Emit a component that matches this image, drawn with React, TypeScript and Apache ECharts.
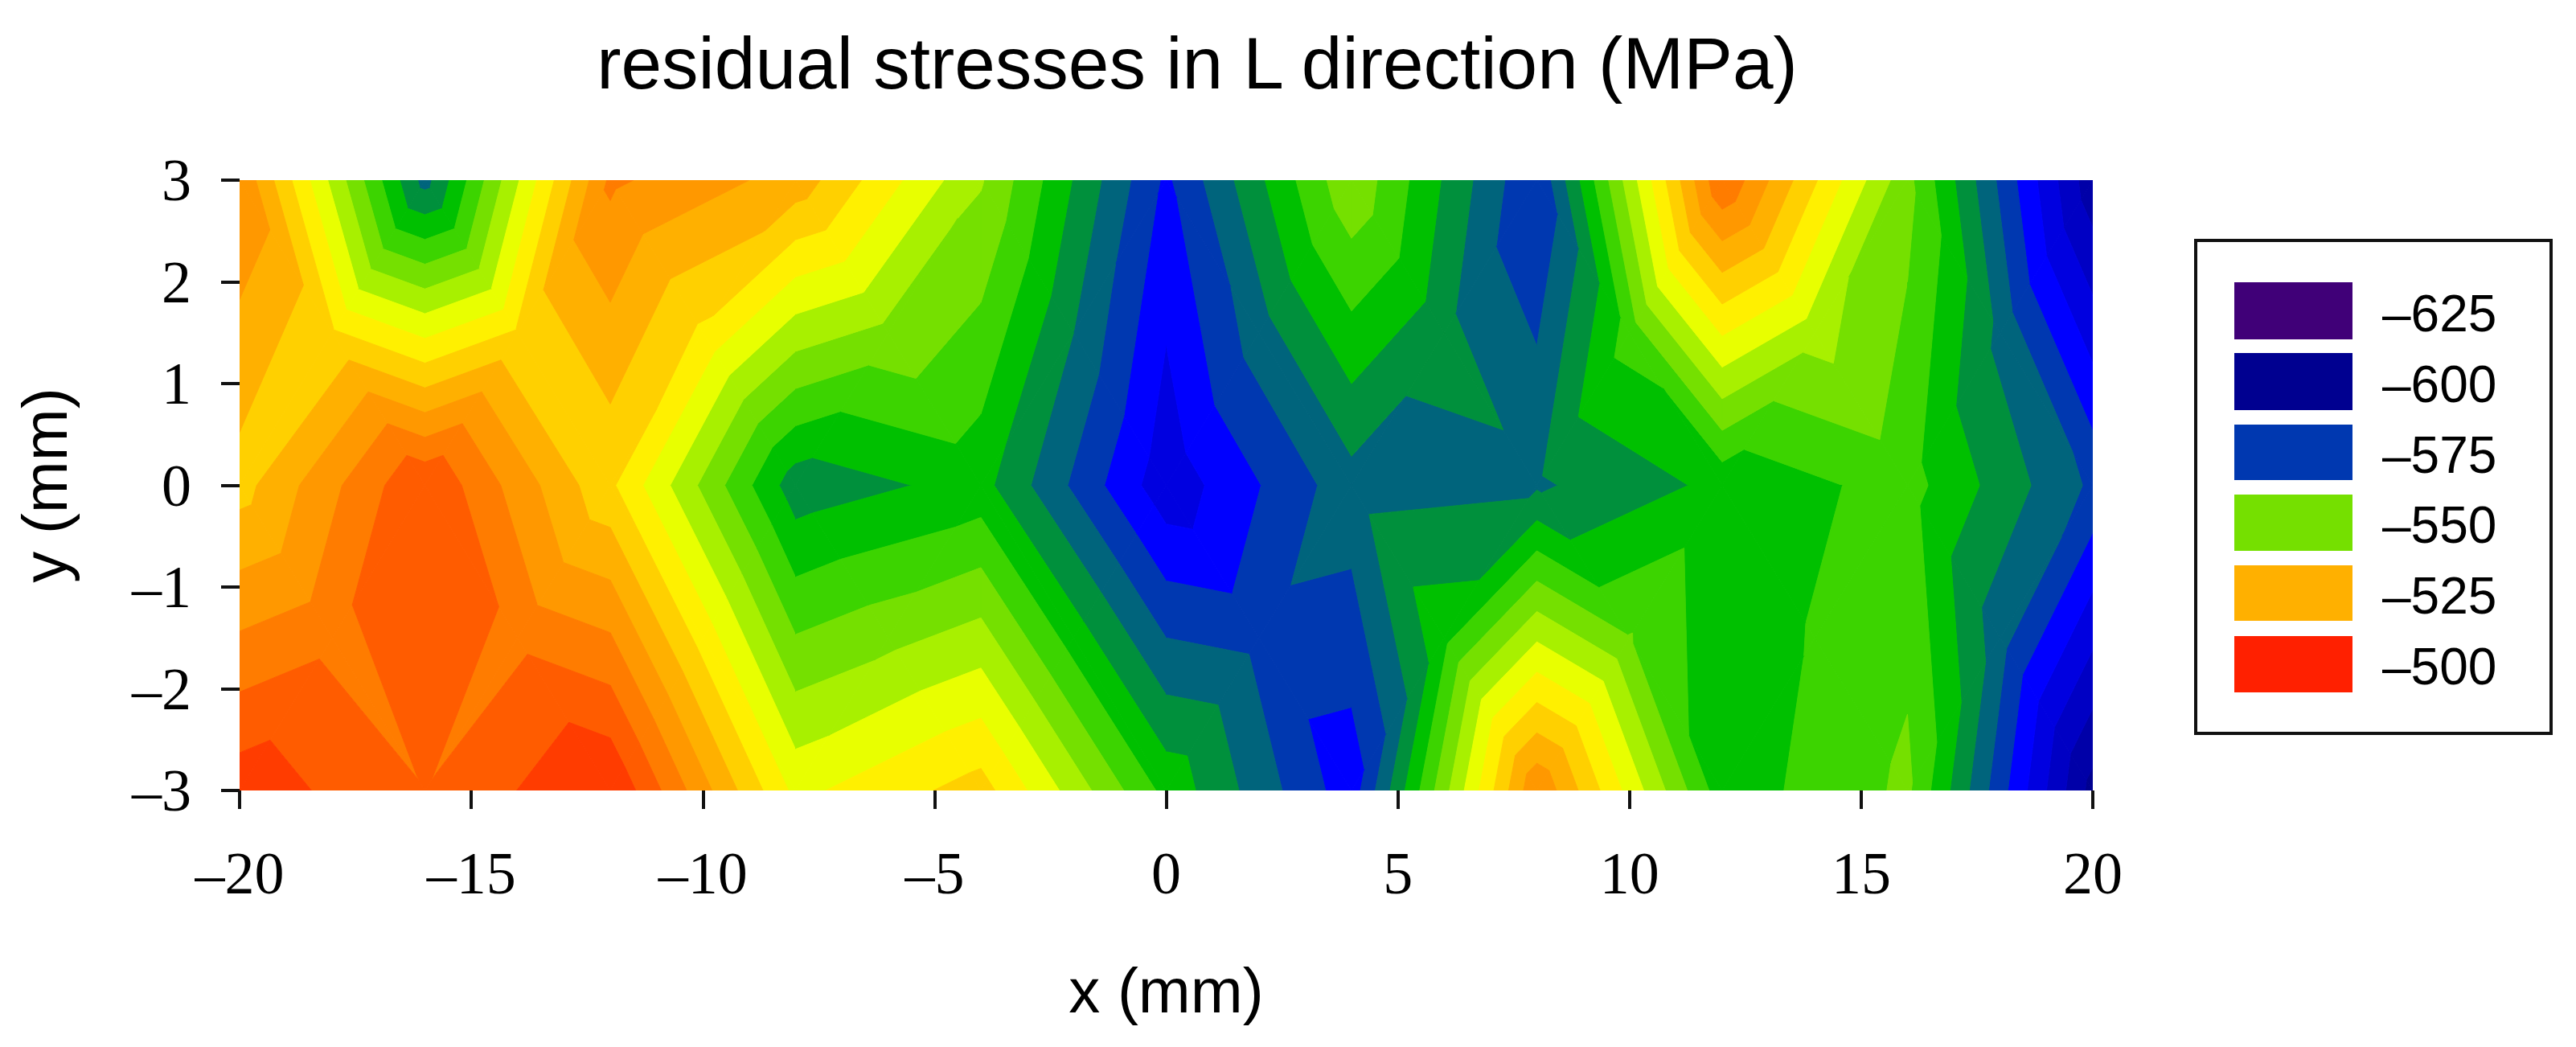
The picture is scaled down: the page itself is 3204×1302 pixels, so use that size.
import React, { useEffect, useRef } from "react";
import * as echarts from "echarts";

const titleText = "residual stresses in L direction (MPa)";
const xNodes = [-20, -16, -12, -8, -4, 0, 4, 8, 12, 16, 20];
const yRows = [3, 0, -3];
const zTop = [-515.5, -567, -514, -522, -544.5, -576, -546, -575, -510.4, -548.5, -593.5];
const zMid = [-527, -505.3, -529, -563, -558.2, -583.4, -567, -565.8, -558.7, -553, -571];
const zBottom = [-501.9, -509.9, -500, -536.4, -527.8, -556.6, -578, -515.5, -558, -549, -597];
const xCentres = [-18, -14, -10, -6, -2, 2, 6, 10, 14, 18];
const yCentres = [1.5, -1.5];
const zCentreUpper = [-529.3, -529.3, -531, -546.5, -565, -567.4, -563.6, -552.9, -543, -566.4];
const zCentreLower = [-511.3, -511.2, -532, -546.5, -557.2, -571.6, -556.5, -549.7, -554.6, -568];

const bandFloors = [-600, -595, -590, -585, -580, -575, -570, -565, -560, -555, -550, -545, -540, -535, -530, -525, -520, -515, -510, -505, -500];
const bandColors = ["#000090", "#0000a8", "#0000c4", "#0000e0", "#0000ff", "#0038b0", "#00647c", "#00903c", "#00c000", "#3cd400", "#75e000", "#a8f000", "#e8ff00", "#fff000", "#ffd000", "#ffb000", "#ff9800", "#ff7c00", "#ff5c00", "#ff3c00", "#ff2000"];
const bandStep = 5;

const legendLabels = ["–625", "–600", "–575", "–550", "–525", "–500"];
const legendColors = ["#400078", "#000090", "#0038b0", "#75e000", "#ffb000", "#ff2000"];
const xMin = -20, xMax = 20, xStep = 5;
const yMin = -3, yMax = 3, yStep = 1;

type V = [number, number, number];

function clipAt(poly: V[], level: number, keepAbove: boolean): V[] {
  const out: V[] = [];
  const inside = (v: V) => (keepAbove ? v[2] >= level : v[2] <= level);
  for (let i = 0; i < poly.length; i++) {
    const a = poly[i];
    const b = poly[(i + 1) % poly.length];
    const ia = inside(a);
    const ib = inside(b);
    if (ia) out.push(a);
    if (ia !== ib) {
      const t = (level - a[2]) / (b[2] - a[2]);
      out.push([a[0] + t * (b[0] - a[0]), a[1] + t * (b[1] - a[1]), level]);
    }
  }
  return out;
}

function buildPolygons() {
  const polys: { pts: number[][]; color: string }[] = [];
  const rows = [zTop, zMid, zBottom];
  const centres = [zCentreUpper, zCentreLower];
  for (let r = 0; r < 2; r++) {
    for (let c = 0; c < xCentres.length; c++) {
      const tl: V = [xNodes[c], yRows[r], rows[r][c]];
      const tr: V = [xNodes[c + 1], yRows[r], rows[r][c + 1]];
      const bl: V = [xNodes[c], yRows[r + 1], rows[r + 1][c]];
      const br: V = [xNodes[c + 1], yRows[r + 1], rows[r + 1][c + 1]];
      const m: V = [xCentres[c], yCentres[r], centres[r][c]];
      const tris: V[][] = [[tl, tr, m], [tr, br, m], [br, bl, m], [bl, tl, m]];
      for (const tri of tris) {
        bandFloors.forEach((floor, b) => {
          let p = clipAt(tri, floor, true);
          if (p.length) p = clipAt(p, floor + bandStep, false);
          if (p.length >= 3) polys.push({ pts: p.map((v) => [v[0], v[1]]), color: bandColors[b] });
        });
      }
    }
  }
  return polys;
}

const dash = (v: number) => String(v).replace("-", "–");

export default function App() {
  const ref = useRef<HTMLDivElement>(null);
  useEffect(() => {
    const chart = echarts.init(ref.current!, undefined, { renderer: "svg" });
    const polys = buildPolygons();
    const sw = [[351, 71], [439, 71], [528, 69], [615, 70], [703, 69], [791, 70]];
    const legendGraphics: any[] = [
      { type: "rect", shape: { x: 2731, y: 299, width: 442, height: 613 }, style: { fill: "#fff", stroke: "#111", lineWidth: 4 } },
    ];
    legendLabels.forEach((t, i) => {
      legendGraphics.push({ type: "rect", shape: { x: 2779, y: sw[i][0], width: 147, height: sw[i][1] }, style: { fill: legendColors[i] } });
      legendGraphics.push({
        type: "text", x: 2963, y: sw[i][0] + sw[i][1] / 2 + 3,
        style: { text: t, fontFamily: "Liberation Sans", fontSize: 64, fill: "#000", textVerticalAlign: "middle", textAlign: "left" },
      });
    });
    chart.setOption({
      animation: false,
      backgroundColor: "#fff",
      title: {
        text: titleText, left: 1484, top: 28, textAlign: "center",
        textStyle: { fontFamily: "Liberation Sans", fontSize: 91, fontWeight: "normal", color: "#000" },
      },
      grid: { left: 298, top: 224, width: 2305, height: 759, containLabel: false, outerBoundsMode: "none" },
      xAxis: {
        type: "value", min: xMin, max: xMax, interval: xStep,
        name: "x (mm)", nameLocation: "middle", nameGap: 210,
        nameTextStyle: { fontFamily: "Liberation Sans", fontSize: 78, color: "#000" },
        axisLine: { show: false, onZero: false },
        axisTick: { show: true, length: 23, lineStyle: { color: "#111", width: 4 } },
        axisLabel: { margin: 66, formatter: dash, fontFamily: "Liberation Serif", fontSize: 74, color: "#000", hideOverlap: false, showMinLabel: true, showMaxLabel: true },
        splitLine: { show: false },
      },
      yAxis: {
        type: "value", min: yMin, max: yMax, interval: yStep,
        name: "y (mm)", nameLocation: "middle", nameRotate: 90, nameGap: 203,
        nameTextStyle: { fontFamily: "Liberation Sans", fontSize: 78, color: "#000" },
        axisLine: { show: false, onZero: false },
        axisTick: { show: true, length: 23, lineStyle: { color: "#111", width: 4 } },
        axisLabel: { margin: 60, formatter: dash, fontFamily: "Liberation Serif", fontSize: 74, color: "#000", hideOverlap: false, showMinLabel: true, showMaxLabel: true },
        splitLine: { show: false },
      },
      series: [
        {
          type: "custom",
          coordinateSystem: "cartesian2d",
          clip: true,
          silent: true,
          data: polys.map((p, i) => [p.pts[0][0], p.pts[0][1], i]),
          encode: { x: 0, y: 1 },
          renderItem: (_: any, api: any) => {
            const p = polys[api.value(2)];
            return {
              type: "polygon",
              shape: { points: p.pts.map((q) => api.coord(q)) },
              style: { fill: p.color, stroke: p.color, lineWidth: 1 },
            };
          },
        },
      ],
      graphic: legendGraphics,
    });
    return () => chart.dispose();
  }, []);
  return <div ref={ref} style={{ position: "absolute", left: 0, top: 0, width: 3204, height: 1302 }} />;
}
